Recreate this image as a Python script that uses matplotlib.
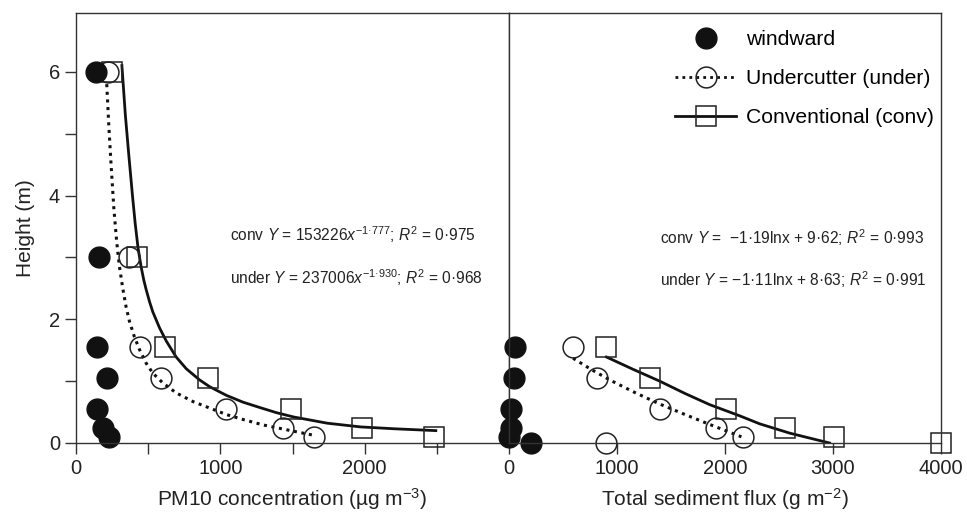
import matplotlib
matplotlib.use("Agg")
import matplotlib.pyplot as plt
from matplotlib.lines import Line2D

plt.rcParams['font.family'] = ['Liberation Sans', 'DejaVu Sans']
plt.rcParams['mathtext.fontset'] = 'custom'
plt.rcParams['mathtext.rm'] = 'Liberation Sans'
plt.rcParams['mathtext.it'] = 'Liberation Sans:italic'

# ---- PM10 concentration panel ----
pm_wind_x = [140, 157, 143, 217, 146, 185, 227]
pm_wind_y = [6, 3, 1.55, 1.05, 0.55, 0.25, 0.1]
pm_under_x = [225, 370, 444, 588, 1040, 1435, 1648]
pm_under_y = [6, 3, 1.55, 1.05, 0.55, 0.25, 0.1]
pm_conv_x = [247, 421, 618, 912, 1493, 1984, 2477]
pm_conv_y = [6, 3, 1.55, 1.05, 0.55, 0.25, 0.1]

# fitted curves
pm_conv_fit_x = [318, 342, 366, 392, 410, 430, 451, 470, 486, 510, 532, 579, 625, 694,
                 764, 856, 926, 1042, 1157, 1278, 1389, 1509, 1741, 1972, 2204, 2493]
pm_conv_fit_y = [6.1, 5.3, 4.65, 3.98, 3.55, 3.15, 2.85, 2.63, 2.48, 2.28, 2.12, 1.86, 1.65, 1.39,
                 1.2, 1.02, 0.91, 0.77, 0.66, 0.57, 0.49, 0.42, 0.32, 0.26, 0.23, 0.20]
pm_under_fit_x = [213, 228, 243, 262, 282, 301, 324, 347, 370, 404, 440, 486, 532, 602,
                  694, 810, 926, 1042, 1157, 1300, 1509, 1636]
pm_under_fit_y = [5.8, 5.1, 4.5, 3.8, 3.25, 2.85, 2.5, 2.2, 1.97, 1.72, 1.51, 1.29, 1.13, 0.97,
                  0.81, 0.67, 0.565, 0.46, 0.38, 0.29, 0.19, 0.13]

# ---- Total sediment flux panel ----
fx_wind_x = [53, 46, 16, 16, 0, 207]
fx_wind_y = [1.55, 1.05, 0.55, 0.25, 0.1, 0]
fx_under_x = [593, 815, 1395, 1914, 2167, 895]
fx_under_y = [1.55, 1.05, 0.55, 0.25, 0.1, 0]
fx_conv_x = [902, 1309, 2013, 2553, 3009, 4003]
fx_conv_y = [1.55, 1.05, 0.55, 0.25, 0.1, 0]

fx_conv_fit_x = [902, 1150, 1395, 1630, 1858, 2135, 2321, 2598, 2968]
fx_conv_fit_y = [1.39, 1.19, 1.0, 0.80, 0.62, 0.44, 0.31, 0.16, 0.0]
fx_under_fit_x = [593, 760, 932, 1160, 1395, 1630, 1858, 2152]
fx_under_fit_y = [1.37, 1.19, 1.02, 0.82, 0.63, 0.46, 0.30, 0.10]

ms = 15
dotted = (0, (1, 1.5))

fig = plt.figure(figsize=(9.67, 5.14), dpi=100)
ax1 = fig.add_axes([76 / 967, 71 / 514, 433 / 967, 430 / 514])
ax2 = fig.add_axes([509 / 967, 71 / 514, 432 / 967, 430 / 514], sharey=ax1)


def draw_panel(ax, wx, wy, ux, uy, cx, cy, cfx, cfy, ufx, ufy):
    ax.plot(cfx, cfy, color='#111111', lw=2, zorder=2, solid_joinstyle='round')
    ax.plot(ufx, ufy, color='#111111', lw=2.2, ls=dotted, zorder=2)
    ax.plot(cx, cy, ls='none', marker='s', ms=ms, mfc='none', mec='#222222',
            mew=1.1, clip_on=False, zorder=3)
    ax.plot(ux, uy, ls='none', marker='o', ms=ms, mfc='none', mec='#222222',
            mew=1.1, clip_on=False, zorder=3)
    ax.plot(wx, wy, ls='none', marker='o', ms=ms, mfc='#111111', mec='#111111',
            clip_on=False, zorder=3)
    for s in ax.spines.values():
        s.set_linewidth(1)
        s.set_color('#333333')
        s.set_zorder(4)


draw_panel(ax1, pm_wind_x, pm_wind_y, pm_under_x, pm_under_y, pm_conv_x, pm_conv_y,
           pm_conv_fit_x, pm_conv_fit_y, pm_under_fit_x, pm_under_fit_y)
draw_panel(ax2, fx_wind_x, fx_wind_y, fx_under_x, fx_under_y, fx_conv_x, fx_conv_y,
           fx_conv_fit_x, fx_conv_fit_y, fx_under_fit_x, fx_under_fit_y)

ax1.set_xlim(0, 3000)
ax2.set_xlim(0, 4000)
ax1.set_ylim(0, 6.95)

ax1.set_xticks([0, 500, 1000, 1500, 2000, 2500])
ax1.set_xticklabels(['0', '', '1000', '', '2000', ''])
ax2.set_xticks([0, 1000, 2000, 3000, 4000])
ax1.set_yticks([0, 1, 2, 3, 4, 5, 6])
ax1.set_yticklabels(['0', '', '2', '', '4', '', '6'])

for ax in (ax1, ax2):
    ax.tick_params(direction='out', length=8, width=1, labelsize=14.5,
                   colors='#333333', labelcolor='#222222')
ax2.tick_params(axis='y', left=False, labelleft=False)

ax1.set_xlabel('PM10 concentration (µg m$^{-3}$)', fontsize=15, color='#222222', labelpad=6)
ax2.set_xlabel('Total sediment flux (g m$^{-2}$)', fontsize=15, color='#222222', labelpad=6)
ax1.set_ylabel('Height (m)', fontsize=15, color='#222222', labelpad=10)

eq_size = 11.2
ax1.text(1069, 3.36, 'conv $Y$ = 153226$x^{-1·777}$; $R^{2}$ = 0·975',
         fontsize=eq_size, va='center', color='#222222')
ax1.text(1069, 2.67, 'under $Y$ = 237006$x^{-1·930}$; $R^{2}$ = 0·968',
         fontsize=eq_size, va='center', color='#222222')
ax2.text(1395, 3.32, 'conv $Y$ =  −1·19lnx + 9·62; $R^{2}$ = 0·993',
         fontsize=eq_size, va='center', color='#222222')
ax2.text(1395, 2.64, 'under $Y$ = −1·11lnx + 8·63; $R^{2}$ = 0·991',
         fontsize=eq_size, va='center', color='#222222')

handles = [
    Line2D([], [], ls='none', marker='o', ms=ms, mfc='#111111', mec='#111111'),
    Line2D([], [], color='#111111', lw=2, ls=dotted, marker='o', ms=ms,
           mfc='none', mec='#222222', mew=1.1),
    Line2D([], [], color='#111111', lw=2, marker='s', ms=ms,
           mfc='none', mec='#222222', mew=1.1),
]
labels = ['windward', 'Undercutter (under)', 'Conventional (conv)']
fig.legend(handles, labels, loc='upper left', bbox_to_anchor=(675 / 967, 1 - 30 / 514),
           frameon=False, fontsize=15.2, handlelength=2.9, handletextpad=0.45,
           labelspacing=0.95, borderpad=0, borderaxespad=0, numpoints=1)

fig.savefig('out.png', dpi=100)
